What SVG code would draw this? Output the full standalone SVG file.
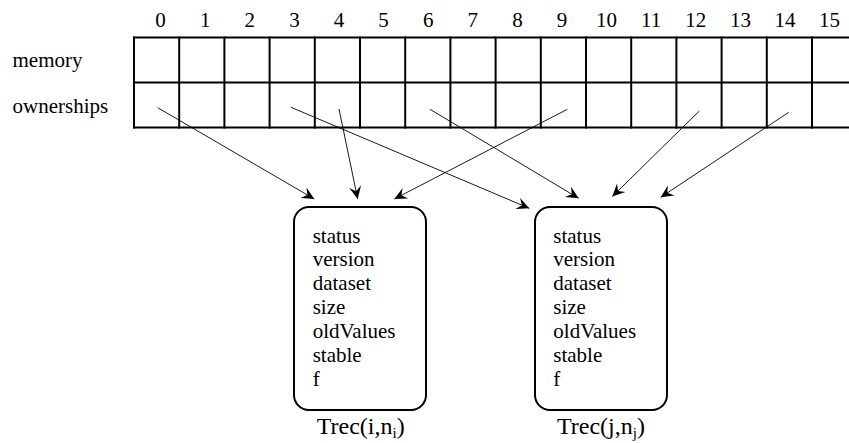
<svg xmlns="http://www.w3.org/2000/svg" width="849" height="443" viewBox="0 0 849 443">
  <style>
    text { font-family: "Liberation Serif", "Times New Roman", serif; font-size: 21px; fill: #000; }
    .idx { text-anchor: middle; }
    .caption { font-size: 24px; }
    .grid line { stroke: #000; stroke-width: 2; }
    .rec { fill: #fff; stroke: #000; stroke-width: 2; }
    .link { stroke: #000; stroke-width: 0.9; fill: none; marker-end: url(#head); }
  </style>
  <defs>
    <marker id="head" markerUnits="userSpaceOnUse" markerWidth="16" markerHeight="14" viewBox="-13 -7 14 14" refX="0" refY="0" orient="auto">
      <path d="M0,0 L-12.5,-6 L-8,0 L-12.5,6 Z" fill="#000"/>
    </marker>
  </defs>

  <!-- cell indices -->
  <g id="indices">
    <text class="idx" x="160.6" y="27">0</text>
    <text class="idx" x="205.2" y="27">1</text>
    <text class="idx" x="249.8" y="27">2</text>
    <text class="idx" x="294.4" y="27">3</text>
    <text class="idx" x="339" y="27">4</text>
    <text class="idx" x="383.6" y="27">5</text>
    <text class="idx" x="428.2" y="27">6</text>
    <text class="idx" x="472.8" y="27">7</text>
    <text class="idx" x="517.4" y="27">8</text>
    <text class="idx" x="562" y="27">9</text>
    <text class="idx" x="606.6" y="27">10</text>
    <text class="idx" x="651.2" y="27">11</text>
    <text class="idx" x="695.8" y="27">12</text>
    <text class="idx" x="740.4" y="27">13</text>
    <text class="idx" x="785" y="27">14</text>
    <text class="idx" x="829.6" y="27">15</text>
  </g>

  <!-- row labels -->
  <g id="labels">
    <text x="12.5" y="67.3">memory</text>
    <text x="12.5" y="112.7">ownerships</text>
  </g>

  <!-- memory / ownerships arrays -->
  <g id="array" class="grid">
    <line x1="133" y1="37.5" x2="849" y2="37.5"/>
    <line x1="133" y1="82.5" x2="849" y2="82.5"/>
    <line x1="133" y1="127.5" x2="849" y2="127.5"/>
    <line x1="134" y1="36.5" x2="134" y2="128.5"/>
    <line x1="179.2" y1="36.5" x2="179.2" y2="128.5"/>
    <line x1="224.4" y1="36.5" x2="224.4" y2="128.5"/>
    <line x1="269.6" y1="36.5" x2="269.6" y2="128.5"/>
    <line x1="314.8" y1="36.5" x2="314.8" y2="128.5"/>
    <line x1="360" y1="36.5" x2="360" y2="128.5"/>
    <line x1="405.2" y1="36.5" x2="405.2" y2="128.5"/>
    <line x1="450.4" y1="36.5" x2="450.4" y2="128.5"/>
    <line x1="495.6" y1="36.5" x2="495.6" y2="128.5"/>
    <line x1="540.8" y1="36.5" x2="540.8" y2="128.5"/>
    <line x1="586" y1="36.5" x2="586" y2="128.5"/>
    <line x1="631.2" y1="36.5" x2="631.2" y2="128.5"/>
    <line x1="676.4" y1="36.5" x2="676.4" y2="128.5"/>
    <line x1="721.6" y1="36.5" x2="721.6" y2="128.5"/>
    <line x1="766.8" y1="36.5" x2="766.8" y2="128.5"/>
    <line x1="812" y1="36.5" x2="812" y2="128.5"/>
  </g>

  <!-- ownership pointers -->
  <g id="connectors">
    <line class="link" x1="157.7" y1="107.7" x2="314.3" y2="199"/>
    <line class="link" x1="339" y1="109" x2="357.7" y2="199"/>
    <line class="link" x1="567.3" y1="109.3" x2="394.3" y2="199"/>
    <line class="link" x1="291" y1="107.3" x2="529.3" y2="208.3"/>
    <line class="link" x1="430" y1="109.3" x2="578.7" y2="198.3"/>
    <line class="link" x1="699.3" y1="111" x2="612.3" y2="196.5"/>
    <line class="link" x1="788.7" y1="112.3" x2="660.7" y2="197.3"/>
  </g>

  <!-- transaction record i -->
  <g id="trec-i">
    <rect class="rec" x="294" y="207" width="132" height="203" rx="15" ry="15"/>
    <text x="312.7" y="242.5">status</text>
    <text x="312.7" y="266">version</text>
    <text x="312.7" y="290">dataset</text>
    <text x="312.7" y="314">size</text>
    <text x="312.7" y="338">oldValues</text>
    <text x="312.7" y="362">stable</text>
    <text x="312.7" y="386">f</text>
    <text class="caption" x="316.7" y="434">Trec(i,n<tspan font-size="15" dy="4">i</tspan><tspan dy="-4">)</tspan></text>
  </g>

  <!-- transaction record j -->
  <g id="trec-j">
    <rect class="rec" x="535" y="207" width="132" height="203" rx="15" ry="15"/>
    <text x="553.3" y="242.5">status</text>
    <text x="553.3" y="266">version</text>
    <text x="553.3" y="290">dataset</text>
    <text x="553.3" y="314">size</text>
    <text x="553.3" y="338">oldValues</text>
    <text x="553.3" y="362">stable</text>
    <text x="553.3" y="386">f</text>
    <text class="caption" x="557" y="434">Trec(j,n<tspan font-size="15" dy="4">j</tspan><tspan dy="-4">)</tspan></text>
  </g>
</svg>
